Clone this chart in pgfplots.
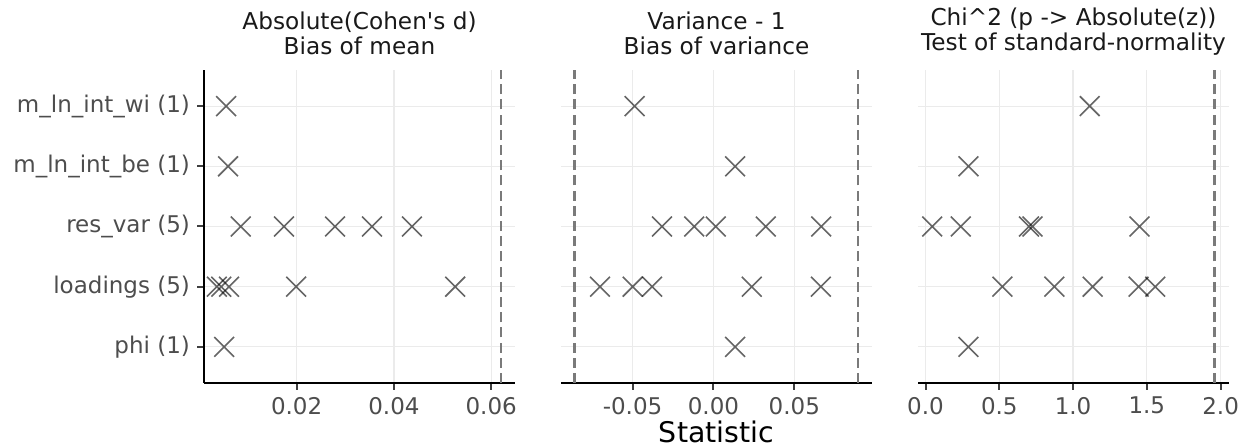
\documentclass[border=0pt]{standalone}
\usepackage{fontspec}
\setmainfont{DejaVu Sans}
\usepackage{pgfplots}
\pgfplotsset{compat=1.18}

\definecolor{gridgray}{HTML}{EBEBEB}
\definecolor{txtgray}{HTML}{4D4D4D}
\definecolor{refgray}{HTML}{7A7A7A}

\pgfplotsset{
  panel/.style={
    scale only axis, width=155.5pt, height=156.5pt,
    anchor=south west, clip=false, scaled ticks=false,
    ymin=0.4, ymax=5.6, ytick={1,2,3,4,5},
    axis x line*=bottom, axis y line*=left,
    axis line style={line width=1.1pt, black, -},
    tick align=outside, major tick length=3.5pt,
    tick style={line width=1pt, black!75},
    grid=major, major grid style={gridgray, line width=0.6pt},
    ticklabel style={font=\fontsize{11.5}{13}\selectfont, text=txtgray},
    /pgf/number format/assume math mode=true,
    title style={align=center, font=\fontsize{11.6}{12.5}\selectfont,
      text=black!90, at={(0.5,1)}, anchor=south, yshift=-2pt},
  },
  noy/.style={
    y axis line style={draw=none}, ytick style={draw=none}, yticklabels={},
  },
  pts/.style={only marks, mark=x, mark size=7pt,
    mark options={line width=0.8pt, black, opacity=0.6}},
  ref/.style={refgray, line width=1.4pt, dash pattern=on 5pt off 2.6pt},
}

\begin{document}
\begin{tikzpicture}
\useasboundingbox (0,0) rectangle (623.5pt,224pt);

% panel 1: bias of mean
\begin{axis}[panel, at={(102pt,32.5pt)},
  xmin=0.00095, xmax=0.0649,
  xtick={0.02,0.04,0.06}, xticklabels={0.02,0.04,0.06},
  yticklabels={phi (1),loadings (5),res\_var (5),m\_ln\_int\_be (1),m\_ln\_int\_wi (1)},
  title={Absolute(Cohen\textquotesingle s d)\\Bias of mean}]
\addplot[ref] coordinates {(0.062,0.4) (0.062,5.6)};
\addplot[pts] coordinates {
  (0.0055,5) (0.0059,4)
  (0.0085,3) (0.0174,3) (0.0279,3) (0.0355,3) (0.0437,3)
  (0.0036,2) (0.0045,2) (0.0061,2) (0.0199,2) (0.0526,2)
  (0.0051,1)};
\end{axis}

% panel 2: bias of variance
\begin{axis}[panel, noy, at={(280.5pt,32.5pt)},
  xmin=-0.0942, xmax=0.098,
  xtick={-0.05,0,0.05}, xticklabels={-0.05,0.00,0.05},
  title={Variance - 1\\Bias of variance},
  xlabel={Statistic},
  xlabel style={font=\fontsize{14.2}{16}\selectfont, text=black,
    at={(axis description cs:0.5,0)}, anchor=center, yshift=-24.5pt}]
\addplot[ref] coordinates {(-0.0858,0.4) (-0.0858,5.6)};
\addplot[ref] coordinates {(0.0894,0.4) (0.0894,5.6)};
\addplot[pts] coordinates {
  (-0.0487,5) (0.0134,4)
  (-0.0318,3) (-0.0119,3) (0.0015,3) (0.0324,3) (0.0666,3)
  (-0.0701,2) (-0.0499,2) (-0.0379,2) (0.0237,2) (0.0664,2)
  (0.0134,1)};
\end{axis}

% panel 3: test of standard-normality
\begin{axis}[panel, noy, at={(459pt,32.5pt)},
  xmin=-0.051, xmax=2.057,
  xtick={0,0.5,1,1.5,2}, xticklabels={0.0,0.5,1.0,1.5,2.0},
  title={Chi\textasciicircum 2 (p -> Absolute(z))\\Test of standard-normality}]
\addplot[ref] coordinates {(1.96,0.4) (1.96,5.6)};
\addplot[pts] coordinates {
  (1.113,5) (0.291,4)
  (0.045,3) (0.239,3) (0.701,3) (0.725,3) (1.45,3)
  (0.521,2) (0.873,2) (1.133,2) (1.444,2) (1.557,2)
  (0.291,1)};
\end{axis}
\end{tikzpicture}
\end{document}
